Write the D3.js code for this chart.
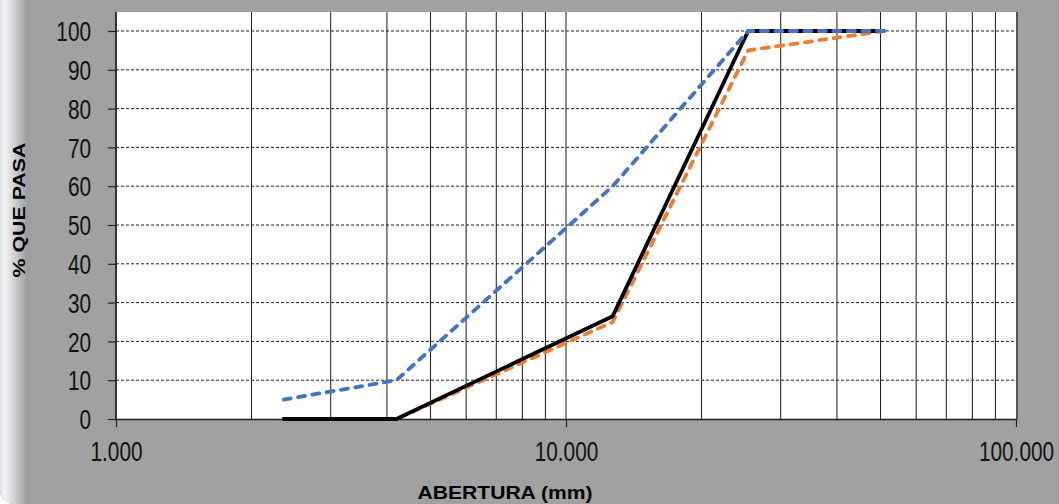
<!DOCTYPE html>
<html>
<head>
<meta charset="utf-8">
<script src="https://cdn.jsdelivr.net/npm/d3@7"></script>
<style>
  html, body { margin: 0; padding: 0; background: #fff; }
  svg { display: block; }
</style>
</head>
<body>
<script>
// sieve openings (mm) and % passing for the three curves
const aberturas = [2.36, 4.2, 12.7, 25.4, 50.8];
const serieAzul = [5, 10, 60, 100, 100];
const serieNegra = [0, 0, 26.5, 100, 100];
const serieNaranja = [0, 0, 25, 95, 100];
const yTicks = [0, 10, 20, 30, 40, 50, 60, 70, 80, 90, 100];
const xTicks = [1, 10, 100];
const xGrid = [2, 3, 4, 5, 6, 7, 8, 9, 10, 20, 30, 40, 50, 60, 70, 80, 90];

const width = 1059, height = 504;

const svg = d3.select("body").append("svg")
  .attr("width", width)
  .attr("height", height);

const defs = svg.append("defs");
const grad = defs.append("linearGradient")
  .attr("id", "leftEdge")
  .attr("x1", 0).attr("x2", 1).attr("y1", 0).attr("y2", 0);
grad.append("stop").attr("offset", "0").attr("stop-color", "#dfe2e5");
grad.append("stop").attr("offset", "0.15").attr("stop-color", "#f3f4f6");
grad.append("stop").attr("offset", "0.45").attr("stop-color", "#cfd0d2");
grad.append("stop").attr("offset", "0.85").attr("stop-color", "#9c9d9d");
grad.append("stop").attr("offset", "1").attr("stop-color", "#a0a1a0");

// chart background, only the bottom-left corner is rounded
const r = 14;
svg.append("path")
  .attr("d", `M0,0H${width}V${height}H${r}A${r},${r} 0 0 1 0,${height - r}Z`)
  .attr("fill", "#a0a1a0");
svg.append("path")
  .attr("d", `M0,0H32V${height}H${r}A${r},${r} 0 0 1 0,${height - r}Z`)
  .attr("fill", "url(#leftEdge)");

const x = d3.scaleLog().domain([1, 100]).range([116, 1016]);
const y = d3.scaleLinear().domain([0, 100]).range([419, 31]);

// plot area
svg.append("rect")
  .attr("x", x(1)).attr("y", 12)
  .attr("width", x(100) - x(1)).attr("height", y(0) - 12)
  .attr("fill", "#fff");

// vertical grid
svg.append("g")
  .selectAll("line")
  .data(xGrid)
  .join("line")
  .attr("x1", d => x(d)).attr("x2", d => x(d))
  .attr("y1", 12).attr("y2", y(0))
  .attr("stroke", "#1a1a1a")
  .attr("stroke-width", 1);

// right border
svg.append("line")
  .attr("x1", x(100) + 1).attr("x2", x(100) + 1)
  .attr("y1", 12).attr("y2", y(0))
  .attr("stroke", "#555")
  .attr("stroke-width", 2);

// horizontal dotted grid
svg.append("g")
  .selectAll("line")
  .data(yTicks.filter(d => d > 0))
  .join("line")
  .attr("x1", x(1)).attr("x2", x(100))
  .attr("y1", d => y(d)).attr("y2", d => y(d))
  .attr("stroke", "#222")
  .attr("stroke-width", 1)
  .attr("stroke-dasharray", "3,2");

// y axis
const yAxis = svg.append("g")
  .attr("transform", `translate(${x(1)},0)`)
  .call(d3.axisLeft(y).tickValues(yTicks).tickSize(8).tickSizeOuter(0).tickFormat(d3.format("d")));
yAxis.select(".domain").attr("stroke", "#333").attr("stroke-width", 2)
  .attr("d", `M0,12V${y(0)}`);
yAxis.selectAll(".tick line").attr("stroke", "#222").attr("stroke-width", 1.2);
yAxis.selectAll(".tick text")
  .attr("font-family", "'Liberation Sans', Arial, sans-serif")
  .attr("font-size", 27)
  .attr("fill", "#111")
  .attr("x", -25 / 0.77)
  .attr("dy", "0.36em")
  .attr("transform", "scale(0.77,1)");

// x axis
const xAxis = svg.append("g")
  .attr("transform", `translate(0,${y(0)})`)
  .call(d3.axisBottom(x).tickValues(xTicks).tickSize(8).tickSizeOuter(0).tickFormat(d3.format(".3f")));
xAxis.select(".domain").attr("stroke", "#222").attr("stroke-width", 1.5);
xAxis.selectAll(".tick line").attr("stroke", "#222").attr("stroke-width", 1.2);
xAxis.selectAll(".tick text")
  .attr("font-family", "'Liberation Sans', Arial, sans-serif")
  .attr("font-size", 27)
  .attr("fill", "#111")
  .attr("y", 42)
  .attr("dy", 0)
  .attr("transform", "scale(0.77,1)");

// axis titles
svg.append("text")
  .attr("x", 505).attr("y", 499)
  .attr("text-anchor", "middle")
  .attr("font-family", "'Liberation Sans', Arial, sans-serif")
  .attr("font-weight", "bold")
  .attr("font-size", 19)
  .attr("textLength", 175)
  .attr("lengthAdjust", "spacingAndGlyphs")
  .attr("fill", "#000")
  .text("ABERTURA (mm)");

svg.append("text")
  .attr("transform", "translate(25,210) rotate(-90)")
  .attr("text-anchor", "middle")
  .attr("font-family", "'Liberation Sans', Arial, sans-serif")
  .attr("font-weight", "bold")
  .attr("font-size", 17)
  .attr("textLength", 135)
  .attr("lengthAdjust", "spacingAndGlyphs")
  .attr("fill", "#000")
  .text("% QUE PASA");

// curves
const line = d3.line()
  .x(d => x(d[0]))
  .y(d => y(d[1]));

const series = [
  { vals: serieNaranja, color: "#ED7D31", dash: "7,7.5" },
  { vals: serieNegra, color: "#000000", dash: null },
  { vals: serieAzul, color: "#4472C4", dash: "7,7.5" }
];

svg.append("g")
  .selectAll("path")
  .data(series)
  .join("path")
  .attr("d", s => line(aberturas.map((a, i) => [a, s.vals[i]])))
  .attr("fill", "none")
  .attr("stroke", s => s.color)
  .attr("stroke-width", 3.8)
  .attr("stroke-linecap", "round")
  .attr("stroke-linejoin", "round")
  .attr("stroke-dasharray", s => s.dash);
</script>
</body>
</html>
